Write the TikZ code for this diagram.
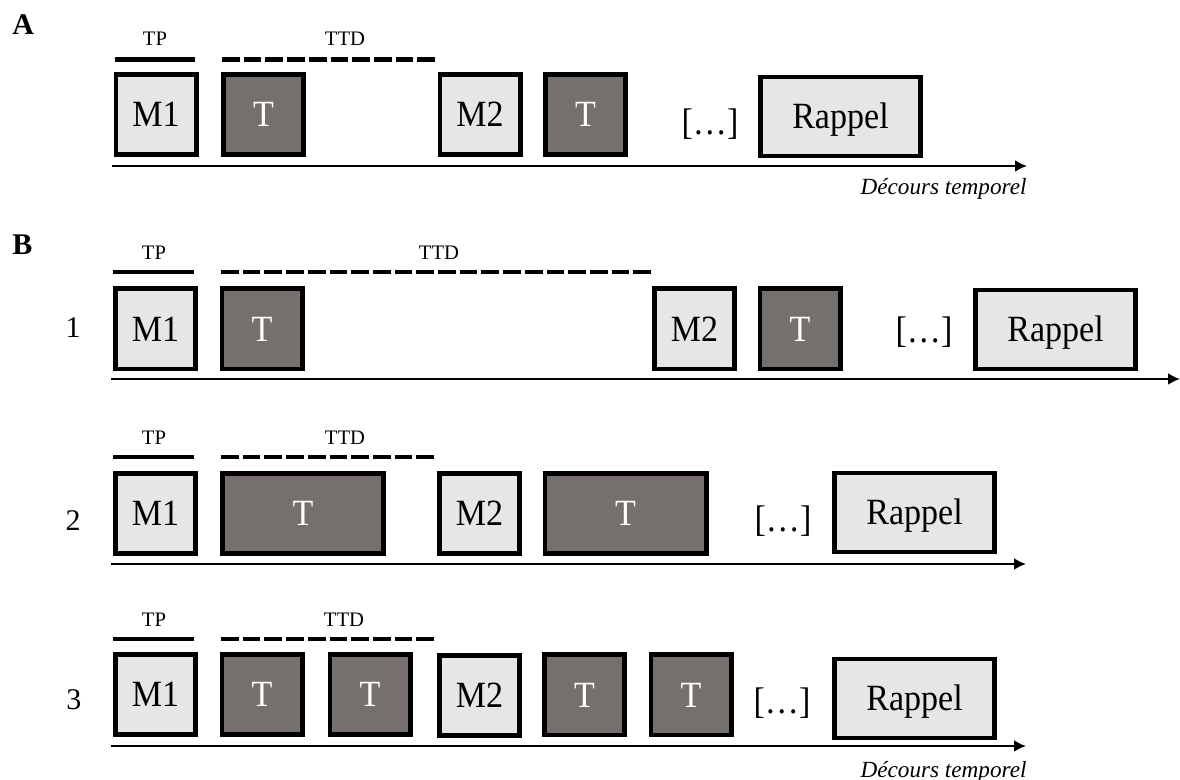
\documentclass[tikz,border=0pt]{standalone}
\usepackage{fontspec}
\setmainfont{Liberation Serif}
\newfontfamily\boxfont[FakeStretch=0.92]{Liberation Serif}
\usetikzlibrary{arrows.meta}
\definecolor{lightbox}{HTML}{E7E5E6}
\definecolor{darkbox}{HTML}{75706D}

\begin{document}
\begin{tikzpicture}[x=0.5pt, y=-0.5pt, >={Latex[length=6pt,width=6pt]},
    mem/.style={rectangle,
        draw,
        line width = 2.3pt,
        fill = lightbox,
        minimum width = 40.2pt,
        minimum height = 40.2pt,
        inner sep = 0pt,
        font = \boxfont\fontsize{18.5}{22}\selectfont,
        text height = 12.2pt,
        text depth = 0pt},
    task/.style={mem, fill = darkbox, text = white},
    longtask/.style={task, minimum width = 80.7pt},
    recall/.style={mem, minimum width = 80.2pt, minimum height = 39.5pt},
    etc/.style={font = \boxfont\fontsize{18.5}{22}\selectfont},
    lbl/.style={font = \fontsize{10.3}{12}\selectfont},
    rownum/.style={font = \fontsize{15}{18}\selectfont},
    panel/.style={font = \fontsize{15}{18}\selectfont\bfseries, anchor = west, inner sep = 0pt},
    tpbar/.style={line width = 2.2pt},
    ttdbar/.style={line width = 2.2pt, dash pattern = on 8.85pt off 2pt},
    axis/.style={->, line width = 1.1pt},
    timelbl/.style={font = \fontsize{11.6}{14}\selectfont\itshape, anchor = east, inner sep = 0pt}
    ]

    \useasboundingbox (0,0) rectangle (1180,780);

    % panel A
    \node[panel] (pA) at (12,25) {A};

    \coordinate (tpA0) at (115,59.5);
    \coordinate (tpA1) at (195,59.5);
    \coordinate (ttdA0) at (222,59.5);
    \coordinate (ttdA1) at (435,59.5);
    \draw[tpbar] (tpA0) -- (tpA1);
    \draw[ttdbar] (ttdA0) -- (ttdA1);
    \node[lbl] (tpA) at (155,38.5) {TP};
    \node[lbl] (ttdA) at (345,38.5) {TTD};

    \node[mem] (m1A) at (156,114.5) {M1};
    \node[task] (t1A) at (263.5,114.5) {T};
    \node[mem] (m2A) at (480,114.5) {M2};
    \node[task] (t2A) at (585.5,114.5) {T};
    \node[etc] (etcA) at (710,124) {[…]};
    \node[recall] (recA) at (840.5,116.5) {Rappel};

    \coordinate (axA0) at (112,166);
    \coordinate (axA1) at (1027,166);
    \draw[axis] (axA0) -- (axA1);
    \node[timelbl] (timeA) at (1027,189) {Décours temporel};

    % panel B
    \node[panel] (pB) at (12,245) {B};

    %row 1
    \coordinate (tp10) at (113,272);
    \coordinate (tp11) at (194,272);
    \coordinate (ttd10) at (221,272);
    \coordinate (ttd11) at (652,272);
    \draw[tpbar] (tp10) -- (tp11);
    \draw[ttdbar] (ttd10) -- (ttd11);
    \node[lbl] (tp1) at (154,253) {TP};
    \node[lbl] (ttd1) at (439,253) {TTD};

    \node[rownum] (n1) at (73,328) {1};
    \node[mem] (m11) at (155.5,329) {M1};
    \node[task] (t11) at (262,329) {T};
    \node[mem] (m21) at (694.5,329) {M2};
    \node[task] (t21) at (800,329) {T};
    \node[etc] (etc1) at (924,332) {[…]};
    \node[recall] (rec1) at (1055.5,329.5) {Rappel};

    \coordinate (ax10) at (111,379);
    \coordinate (ax11) at (1180,379);
    \draw[axis] (ax10) -- (ax11);

    %row 2
    \coordinate (tp20) at (113,457);
    \coordinate (tp21) at (194,457);
    \coordinate (ttd20) at (221,457);
    \coordinate (ttd21) at (435,457);
    \draw[tpbar] (tp20) -- (tp21);
    \draw[ttdbar] (ttd20) -- (ttd21);
    \node[lbl] (tp2) at (154,437.5) {TP};
    \node[lbl] (ttd2) at (345,437.5) {TTD};

    \node[rownum] (n2) at (73,521) {2};
    \node[mem] (m12) at (155.5,513.5) {M1};
    \node[longtask] (t12) at (303,513.5) {T};
    \node[mem] (m22) at (479.5,513.5) {M2};
    \node[longtask] (t22) at (625.5,513.5) {T};
    \node[etc] (etc2) at (783,521) {[…]};
    \node[recall] (rec2) at (914.5,512.5) {Rappel};

    \coordinate (ax20) at (111,564);
    \coordinate (ax21) at (1026,564);
    \draw[axis] (ax20) -- (ax21);

    %row 3
    \coordinate (tp30) at (113,639);
    \coordinate (tp31) at (194,639);
    \coordinate (ttd30) at (221,639);
    \coordinate (ttd31) at (434,639);
    \draw[tpbar] (tp30) -- (tp31);
    \draw[ttdbar] (ttd30) -- (ttd31);
    \node[lbl] (tp3) at (154,620) {TP};
    \node[lbl] (ttd3) at (344,620) {TTD};

    \node[rownum] (n3) at (74,700) {3};
    \node[mem] (m13) at (155.5,694.5) {M1};
    \node[task] (t13) at (262,694.5) {T};
    \node[task] (t23) at (370,694.5) {T};
    \node[mem] (m23) at (479.5,695.5) {M2};
    \node[task] (t33) at (584.5,695) {T};
    \node[task] (t43) at (691,695) {T};
    \node[etc] (etc3) at (782,703) {[…]};
    \node[recall] (rec3) at (914.5,698.5) {Rappel};

    \coordinate (ax30) at (111,746);
    \coordinate (ax31) at (1026,746);
    \draw[axis] (ax30) -- (ax31);
    \node[timelbl] (time3) at (1027,772) {Décours temporel};

\end{tikzpicture}
\end{document}
